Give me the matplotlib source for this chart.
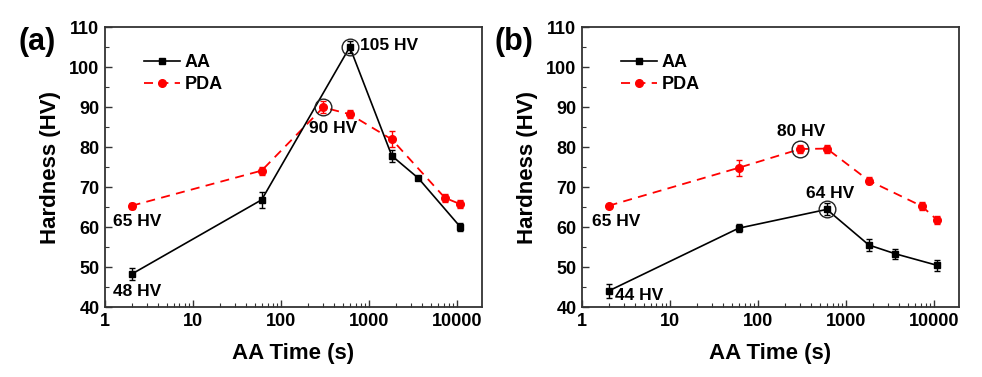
import matplotlib
matplotlib.use("Agg")
import matplotlib.pyplot as plt
from matplotlib.lines import Line2D
from matplotlib.ticker import LogLocator, NullFormatter, MultipleLocator, FixedLocator, FixedFormatter

plt.rcParams['font.family'] = ['Liberation Sans', 'DejaVu Sans']
plt.rcParams['font.weight'] = 'bold'

# ---- data ----
t_aa = [2, 60, 600, 1800, 3600, 10800]
t_pda = [2, 60, 300, 600, 1800, 7200, 10800]

aa_a = [48.2, 66.8, 105.0, 77.8, 72.2, 60.0]
aa_a_err = [1.5, 2.0, 1.5, 1.5, 0.5, 1.0]
pda_a = [65.3, 74.1, 89.9, 88.2, 81.9, 67.3, 65.7]
pda_a_err = [0.8, 1.0, 1.5, 1.0, 2.0, 1.0, 1.0]

aa_b = [44.0, 59.7, 64.4, 55.5, 53.3, 50.4]
aa_b_err = [1.8, 1.0, 1.5, 1.5, 1.2, 1.3]
pda_b = [65.3, 74.8, 79.5, 79.6, 71.6, 65.2, 61.7]
pda_b_err = [0.5, 2.0, 1.0, 1.0, 0.8, 1.0, 1.0]

x_ticks = [1, 10, 100, 1000, 10000]
x_ticklabels = ["1", "10", "100", "1000", "10000"]
y_ticks = [40, 50, 60, 70, 80, 90, 100, 110]

# highlighted points: (x, y)
circ_a = [(600, 105.0), (300, 89.9)]
circ_b = [(300, 79.5), (600, 64.4)]

# annotations: (text, x, y)
ann_a = [("105 HV", 780, 105.5), ("90 HV", 205, 84.7), ("65 HV", 1.23, 61.3), ("48 HV", 1.23, 43.8)]
ann_b = [("80 HV", 165, 83.8), ("64 HV", 345, 68.5), ("65 HV", 1.3, 61.3), ("44 HV", 2.35, 43.0)]

fig = plt.figure(figsize=(9.82, 3.77), dpi=100)
ax_a = fig.add_axes([105/982, 1-307/377, 377/982, 280/377])
ax_b = fig.add_axes([582/982, 1-307/377, 377/982, 280/377])

spine_c = '#333333'
red = '#ff0000'
pda_ls = (0, (5, 3.5))

def draw(ax, aa, aa_err, pda, pda_err, circs, anns):
    ax.errorbar(t_pda, pda, yerr=pda_err, color=red, ls=pda_ls, lw=1.3,
                marker='o', ms=5.5, capsize=2.5, elinewidth=1, capthick=1, zorder=3)
    ax.errorbar(t_aa, aa, yerr=aa_err, color='black', ls='-', lw=1.2,
                marker='s', ms=5, capsize=2.5, elinewidth=1, capthick=1, zorder=4)
    for (cx, cy) in circs:
        ax.plot([cx], [cy], marker='o', ms=12, mfc='none', mec='#222222', mew=1.0, ls='none', zorder=5)
    for (txt, tx, ty) in anns:
        ax.text(tx, ty, txt, fontsize=12.5, fontweight='bold', va='center', ha='left', zorder=6)
    ax.set_xscale('log')
    ax.set_xlim(1, 1.9e4)
    ax.set_ylim(40, 110)
    ax.xaxis.set_major_locator(FixedLocator(x_ticks))
    ax.xaxis.set_major_formatter(FixedFormatter(x_ticklabels))
    ax.xaxis.set_minor_locator(LogLocator(base=10, subs=range(2, 10), numticks=20))
    ax.xaxis.set_minor_formatter(NullFormatter())
    ax.yaxis.set_major_locator(FixedLocator(y_ticks))
    ax.yaxis.set_minor_locator(MultipleLocator(5))
    ax.tick_params(which='both', direction='in', top=False, right=False, colors=spine_c,
                   labelcolor='black', labelsize=13, pad=4)
    ax.tick_params(which='major', length=5, width=1)
    ax.tick_params(which='minor', length=3, width=0.8)
    for lab in ax.get_xticklabels() + ax.get_yticklabels():
        lab.set_fontweight('bold')
    for s in ax.spines.values():
        s.set_color(spine_c)
        s.set_linewidth(1.3)
    ax.set_xlabel('AA Time (s)', fontsize=16, fontweight='bold', labelpad=10)
    ax.set_ylabel('Hardness (HV)', fontsize=16, fontweight='bold', labelpad=6)
    handles = [Line2D([], [], color='black', lw=1.2, marker='s', ms=5),
               Line2D([], [], color=red, lw=1.3, ls=pda_ls, marker='o', ms=5.5)]
    leg = ax.legend(handles, ['AA', 'PDA'], loc='upper left', bbox_to_anchor=(0.085, 0.93), frameon=False,
                    fontsize=13, handlelength=2.0, handletextpad=0.25, borderaxespad=0, labelspacing=0.3)
    for t in leg.get_texts():
        t.set_fontweight('bold')

draw(ax_a, aa_a, aa_a_err, pda_a, pda_a_err, circ_a, ann_a)
draw(ax_b, aa_b, aa_b_err, pda_b, pda_b_err, circ_b, ann_b)

fig.text(18/982, 1-42/377, '(a)', fontsize=22, fontweight='bold', va='center', ha='left')
fig.text(494/982, 1-42/377, '(b)', fontsize=22, fontweight='bold', va='center', ha='left')

fig.savefig('out.png', dpi=100)
